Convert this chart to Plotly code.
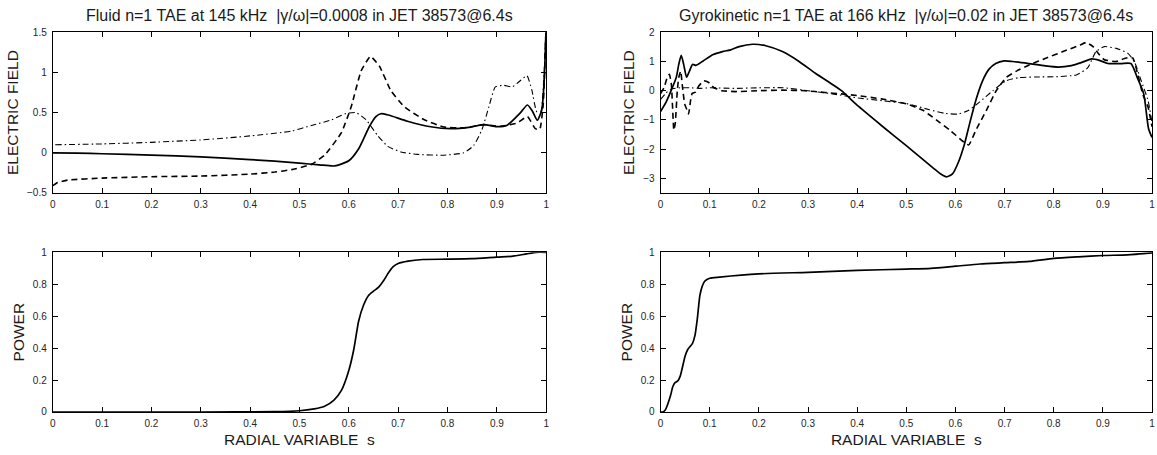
import plotly.graph_objects as go

# ---------------- data ----------------
# Fluid n=1 TAE, electric field components
fl_s_solid = [0, 0.05, 0.1, 0.2, 0.3, 0.4, 0.45, 0.5, 0.54, 0.571, 0.6, 0.62, 0.642, 0.655, 0.665, 0.68,
              0.719, 0.766, 0.806, 0.847, 0.873, 0.90, 0.92, 0.948, 0.962, 0.972, 0.982, 0.991, 0.996, 1.0]
fl_e_solid = [0, -0.005, -0.012, -0.03, -0.05, -0.085, -0.105, -0.13, -0.15, -0.164, -0.10, 0.05, 0.33, 0.45,
              0.486, 0.47, 0.393, 0.324, 0.30, 0.32, 0.35, 0.325, 0.34, 0.50, 0.595, 0.52, 0.405, 0.53, 0.9, 1.6]

fl_s_dash = [0, 0.01, 0.03, 0.1, 0.2, 0.3, 0.4, 0.45, 0.484, 0.524, 0.551, 0.585, 0.605, 0.625, 0.644,
             0.662, 0.685, 0.712, 0.753, 0.793, 0.833, 0.874, 0.907, 0.941, 0.962, 0.978, 0.987, 0.994, 1.0]
fl_e_dash = [-0.41, -0.37, -0.34, -0.315, -0.298, -0.29, -0.266, -0.24, -0.21, -0.145, -0.03, 0.25, 0.575,
             1.02, 1.20, 1.08, 0.776, 0.575, 0.41, 0.32, 0.31, 0.35, 0.33, 0.37, 0.45, 0.30, 0.29, 0.6, 1.6]

fl_s_dashdot = [0.005, 0.1, 0.2, 0.3, 0.4, 0.484, 0.524, 0.565, 0.595, 0.615, 0.635, 0.659, 0.679, 0.706,
                0.739, 0.793, 0.833, 0.853, 0.87, 0.884, 0.897, 0.914, 0.931, 0.948, 0.961, 0.971, 0.981,
                0.989, 0.995, 1.0]
fl_e_dashdot = [0.10, 0.11, 0.13, 0.16, 0.21, 0.27, 0.34, 0.41, 0.49, 0.50, 0.41, 0.21, 0.08, 0.01, -0.02,
                -0.03, 0.0, 0.09, 0.29, 0.575, 0.82, 0.84, 0.82, 0.90, 0.96, 0.78, 0.51, 0.51, 0.9, 1.6]

fl_s_power = [0, 0.3, 0.45, 0.5, 0.53, 0.55, 0.57, 0.585, 0.6, 0.61, 0.62, 0.63, 0.64, 0.65, 0.66, 0.67,
              0.68, 0.69, 0.7, 0.72, 0.75, 0.8, 0.85, 0.9, 0.93, 0.96, 0.98, 1.0]
fl_power = [0, 0, 0.002, 0.008, 0.02, 0.035, 0.075, 0.135, 0.26, 0.39, 0.57, 0.67, 0.73, 0.757, 0.78, 0.82,
            0.87, 0.91, 0.93, 0.945, 0.955, 0.957, 0.96, 0.97, 0.975, 0.99, 1.0, 1.0]

# Gyrokinetic n=1 TAE, electric field components
gk_s_solid = [0, 0.0115, 0.0216, 0.032, 0.037, 0.042, 0.047, 0.053, 0.059, 0.065, 0.072, 0.086, 0.106,
              0.126, 0.143, 0.16, 0.187, 0.214, 0.248, 0.281, 0.315, 0.349, 0.368, 0.403, 0.45, 0.5, 0.53,
              0.555, 0.57, 0.582, 0.594, 0.606, 0.618, 0.63, 0.642, 0.655, 0.668, 0.682, 0.699, 0.716, 0.749,
              0.783, 0.809, 0.836, 0.856, 0.877, 0.893, 0.91, 0.937, 0.957, 0.97, 0.983, 0.993, 1.0]
gk_e_solid = [-0.71, -0.38, 0.01, 0.46, 0.9, 1.21, 0.9, 0.46, 0.68, 0.9, 0.87, 1.01, 1.23, 1.34, 1.40,
              1.51, 1.59, 1.54, 1.34, 1.01, 0.6, 0.22, 0.0, -0.54, -1.2, -1.88, -2.3, -2.65, -2.85, -2.95,
              -2.85, -2.45, -1.85, -1.05, -0.3, 0.33, 0.73, 0.93, 1.02, 1.0, 0.93, 0.85, 0.81, 0.86, 0.96,
              1.09, 1.04, 0.93, 0.93, 0.93, 0.45, -0.1, -1.3, -1.6]

gk_s_dash = [0, 0.007, 0.0135, 0.018, 0.022, 0.027, 0.030, 0.034, 0.037, 0.041, 0.044, 0.049, 0.054, 0.057,
             0.061, 0.064, 0.071, 0.078, 0.088, 0.098, 0.108, 0.125, 0.152, 0.2, 0.247, 0.294, 0.334, 0.368,
             0.402, 0.449, 0.5, 0.534, 0.561, 0.588, 0.615, 0.627, 0.642, 0.663, 0.683, 0.703, 0.724, 0.751,
             0.785, 0.819, 0.853, 0.866, 0.88, 0.893, 0.903, 0.927, 0.947, 0.961, 0.971, 0.981, 0.992, 1.0]
gk_e_dash = [-0.1, 0.1, 0.45, 0.56, 0.22, -1.35, -1.1, 0.0, 0.45, 0.67, 0.22, -0.45, -0.67, -0.8, -0.34,
             -0.1, -0.05, 0.17, 0.34, 0.28, 0.11, 0.0, -0.03, 0.0, 0.02, 0.0, -0.06, -0.11, -0.17, -0.28,
             -0.45, -0.67, -1.0, -1.34, -1.73, -1.86, -1.34, -0.67, 0.0, 0.45, 0.67, 0.89, 1.12, 1.34, 1.56,
             1.65, 1.51, 1.23, 1.06, 1.0, 1.12, 1.12, 0.56, -0.11, -0.56, -1.23]

gk_s_dashdot = [0, 0.01, 0.02, 0.04, 0.06, 0.08, 0.1, 0.15, 0.2, 0.25, 0.3, 0.35, 0.402, 0.45, 0.5, 0.514,
                0.547, 0.58, 0.605, 0.625, 0.649, 0.676, 0.703, 0.73, 0.764, 0.805, 0.846, 0.869, 0.886,
                0.903, 0.927, 0.951, 0.964, 0.978, 0.992, 1.0]
gk_e_dashdot = [-0.3, -0.1, 0.05, 0.1, 0.1, 0.08, 0.1, 0.08, 0.1, 0.1, 0.0, -0.11, -0.25, -0.34, -0.44,
                -0.5, -0.65, -0.78, -0.8, -0.69, -0.39, 0.0, 0.34, 0.45, 0.47, 0.48, 0.54, 0.78, 1.34, 1.51,
                1.45, 1.28, 1.0, 0.34, -0.34, -1.1]

gk_s_power = [0, 0.005, 0.01, 0.02, 0.025, 0.03, 0.035, 0.04, 0.05, 0.055, 0.065, 0.07, 0.075, 0.08, 0.085,
              0.09, 0.1, 0.12, 0.2, 0.3, 0.4, 0.5, 0.55, 0.6, 0.65, 0.7, 0.75, 0.8, 0.85, 0.9, 0.95, 1.0]
gk_power = [0, 0, 0.015, 0.1, 0.16, 0.185, 0.195, 0.225, 0.35, 0.39, 0.43, 0.48, 0.59, 0.73, 0.79, 0.82,
            0.838, 0.845, 0.865, 0.875, 0.887, 0.895, 0.90, 0.913, 0.927, 0.935, 0.943, 0.962, 0.972, 0.98,
            0.984, 0.996]

x_ticks = [0, 0.1, 0.2, 0.3, 0.4, 0.5, 0.6, 0.7, 0.8, 0.9, 1]
fl_field_ticks = [-0.5, 0, 0.5, 1, 1.5]
gk_field_ticks = [-3, -2, -1, 0, 1, 2]
power_ticks = [0, 0.2, 0.4, 0.6, 0.8, 1]

title_fluid = "Fluid n=1 TAE at 145 kHz \u00a0|γ/ω|=0.0008 in JET 38573@6.4s"
title_gyro = "Gyrokinetic n=1 TAE at 166 kHz \u00a0|γ/ω|=0.02 in JET 38573@6.4s"
xlabel = "RADIAL VARIABLE \u00a0s"

# ---------------- figure ----------------
W, H = 1157, 455
FONT = "Liberation Sans, Arial, Helvetica, sans-serif"

def line(style):
    if style == "solid":
        return dict(color="black", width=1.7, dash="solid", shape="spline", smoothing=0.6)
    if style == "dash":
        return dict(color="black", width=1.6, dash="6px,4px", shape="spline", smoothing=0.4)
    return dict(color="black", width=1.1, dash="6px,3px,1.5px,3px", shape="spline", smoothing=0.5)

fig = go.Figure()
panels = [
    ("x", "y", [(fl_s_solid, fl_e_solid, "solid"), (fl_s_dash, fl_e_dash, "dash"),
                (fl_s_dashdot, fl_e_dashdot, "dashdot")]),
    ("x2", "y2", [(gk_s_solid, gk_e_solid, "solid"), (gk_s_dash, gk_e_dash, "dash"),
                  (gk_s_dashdot, gk_e_dashdot, "dashdot")]),
    ("x3", "y3", [(fl_s_power, fl_power, "solid")]),
    ("x4", "y4", [(gk_s_power, gk_power, "solid")]),
]
for xa, ya, series in panels:
    for xs, ys, st in series:
        fig.add_trace(go.Scatter(x=xs, y=ys, mode="lines", line=line(st), xaxis=xa, yaxis=ya,
                                 hoverinfo="skip", showlegend=False))

def px_dom_x(a, b):
    return [a / W, b / W]

def px_dom_y(top, bottom):
    return [1 - bottom / H, 1 - top / H]

tickfont = dict(family=FONT, size=10, color="#262626")
titlefont = dict(family=FONT, size=15.5, color="#1a1a1a")

def xaxis(dom, anchor, title=None):
    d = dict(domain=dom, anchor=anchor, range=[0, 1], tickvals=x_ticks, ticks="inside", ticklen=5,
             tickcolor="black", showline=True, linecolor="black", linewidth=1, mirror="ticks",
             showgrid=False, zeroline=False, tickfont=tickfont, ticklabelstandoff=2)
    if title:
        d["title"] = dict(text=title, font=titlefont, standoff=6)
    return d

def yaxis(dom, anchor, rng, tv, title):
    return dict(domain=dom, anchor=anchor, range=rng, tickvals=tv, ticks="inside", ticklen=5,
                tickcolor="black", showline=True, linecolor="black", linewidth=1, mirror="ticks",
                showgrid=False, zeroline=False, tickfont=tickfont, ticklabelstandoff=3,
                title=dict(text=title, font=titlefont, standoff=4))

LX = px_dom_x(50, 546)
RX = px_dom_x(661, 1155)
TY = px_dom_y(27, 192)
BY = px_dom_y(253, 417)

fig.update_layout(
    width=W, height=H, margin=dict(l=0, r=0, t=0, b=0),
    paper_bgcolor="white", plot_bgcolor="white", showlegend=False,
    font=dict(family=FONT),
    xaxis=xaxis(LX, "y"),
    yaxis=yaxis(TY, "x", [-0.5, 1.5], fl_field_ticks, "ELECTRIC FIELD"),
    xaxis2=xaxis(RX, "y2"),
    yaxis2=yaxis(TY, "x2", [-3.5, 2], gk_field_ticks, "ELECTRIC FIELD"),
    xaxis3=xaxis(LX, "y3", xlabel),
    yaxis3=yaxis(BY, "x3", [0, 1], power_ticks, "POWER"),
    xaxis4=xaxis(RX, "y4", xlabel),
    yaxis4=yaxis(BY, "x4", [0, 1], power_ticks, "POWER"),
    annotations=[
        dict(text=title_fluid, x=(50 + 546) / 2 / W, y=1 - 10 / H, xref="paper", yref="paper",
             xanchor="center", yanchor="middle", showarrow=False,
             font=dict(family=FONT, size=16, color="#1a1a1a")),
        dict(text=title_gyro, x=(661 + 1155) / 2 / W, y=1 - 10 / H, xref="paper", yref="paper",
             xanchor="center", yanchor="middle", showarrow=False,
             font=dict(family=FONT, size=16, color="#1a1a1a")),
    ],
)

fig.write_html("out.html", config={"displayModeBar": False},
               post_script="document.body.style.margin='0px';document.body.style.overflow='hidden';")
